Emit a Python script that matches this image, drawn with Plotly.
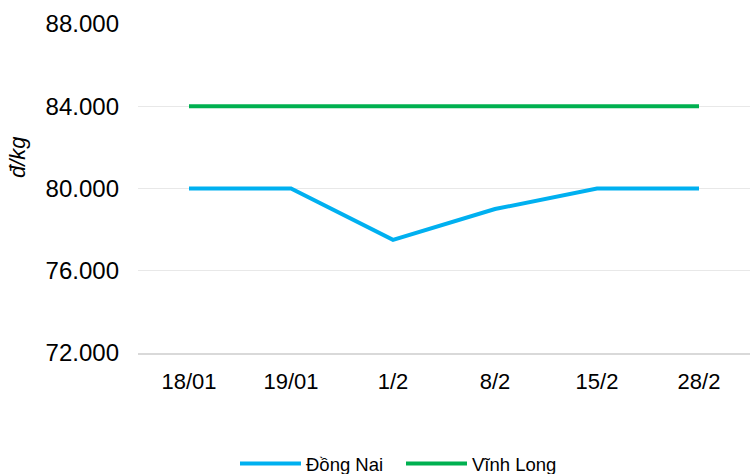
import plotly.graph_objects as go

categories = ["18/01", "19/01", "1/2", "8/2", "15/2", "28/2"]
dong_nai = [80000, 80000, 77500, 79000, 80000, 80000]
vinh_long = [84000, 84000, 84000, 84000, 84000, 84000]
y_ticks = [72000, 76000, 80000, 84000, 88000]
y_tick_labels = ["72.000", "76.000", "80.000", "84.000", "88.000"]

W, H = 750, 474
L, R, T, B = 138, 0, 24, 121
pw, ph = W - L - R, H - T - B

def px_x(x):
    return (x - L) / pw

def px_y(y):
    return (H - B - y) / ph

fig = go.Figure()
fig.add_trace(go.Scatter(x=categories, y=dong_nai, mode="lines", name="Đồng Nai",
                         line=dict(color="#00B0F0", width=4)))
fig.add_trace(go.Scatter(x=categories, y=vinh_long, mode="lines", name="Vĩnh Long",
                         line=dict(color="#00B050", width=4)))

fig.update_layout(
    width=W, height=H,
    margin=dict(l=L, r=R, t=T, b=B, autoexpand=False),
    plot_bgcolor="white", paper_bgcolor="white",
    font=dict(family="Liberation Sans, Arial, sans-serif", size=22, color="#000000"),
    showlegend=True,
    legend=dict(orientation="h", x=px_x(401), xanchor="center", y=px_y(464), yanchor="middle",
                font=dict(size=18.5), itemwidth=61, tracegroupgap=0, entrywidth=90),
    xaxis=dict(type="category", showgrid=False, showline=True, linecolor="#d9d9d9",
               linewidth=1.5, ticks="", ticklabelstandoff=8, tickfont=dict(size=22),
               range=[-0.5, 5.5], zeroline=False),
    yaxis=dict(range=[72000, 88000], tickvals=y_ticks, ticktext=y_tick_labels,
               showgrid=True, gridcolor="#e8e8e8", gridwidth=1, zeroline=False,
               showline=False, ticks="", ticklabelstandoff=18, tickfont=dict(size=24)),
    annotations=[dict(text="<i>đ/kg</i>", x=px_x(17), y=px_y(157), xref="paper", yref="paper",
                      xanchor="center", yanchor="middle",
                      showarrow=False, textangle=-90, font=dict(size=22))],
)

fig.write_html("out.html", config={"displayModeBar": False},
               post_script="document.body.style.margin='0';")
